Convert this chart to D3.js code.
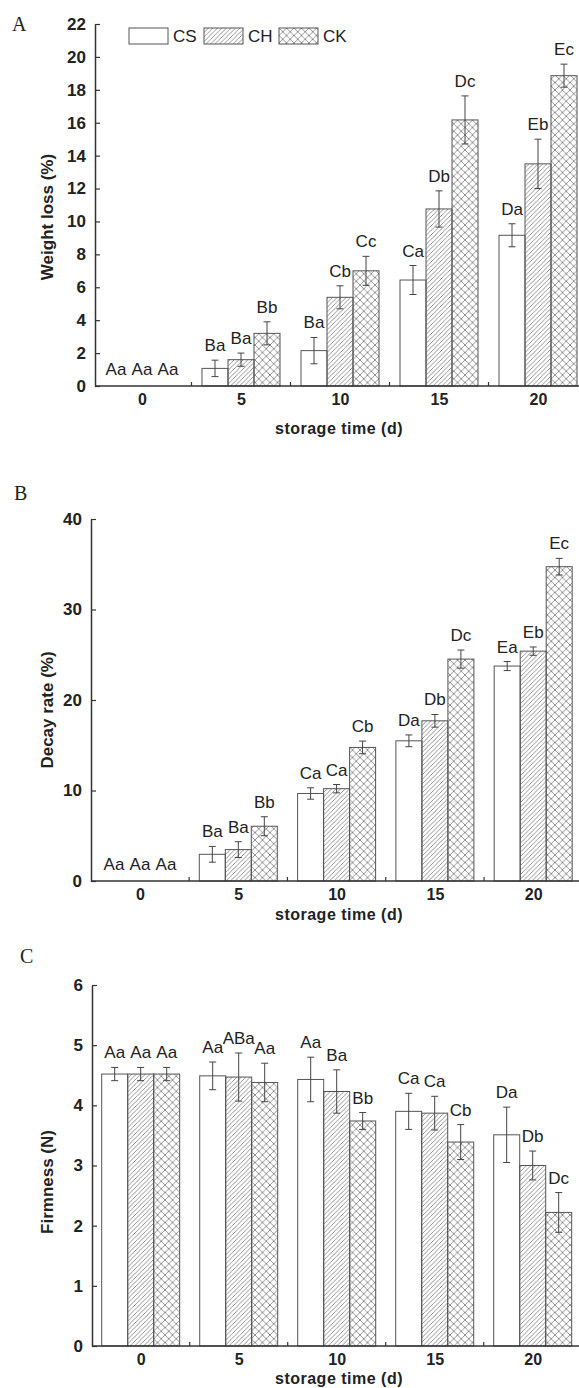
<!DOCTYPE html>
<html>
<head>
<meta charset="utf-8">
<script src="https://cdn.jsdelivr.net/npm/d3@7"></script>
<style>
  body { margin: 0; background: #fff; }
  svg { display: block; }
</style>
</head>
<body>
<div id="chart"></div>
<script>
// categories
const days = ["0", "5", "10", "15", "20"];
const groups = ["CS", "CH", "CK"];

// A - weight loss (%)
const lossCS = [0, 1.07, 2.15, 6.44, 9.16];
const lossCSErr = [0, 0.5, 0.8, 0.88, 0.7];
const lossCSLbl = ["Aa", "Ba", "Ba", "Ca", "Da"];
const lossCH = [0, 1.6, 5.39, 10.76, 13.5];
const lossCHErr = [0, 0.4, 0.7, 1.1, 1.5];
const lossCHLbl = ["Aa", "Ba", "Cb", "Db", "Eb"];
const lossCK = [0, 3.2, 7.0, 16.17, 18.86];
const lossCKErr = [0, 0.7, 0.88, 1.46, 0.7];
const lossCKLbl = ["Aa", "Bb", "Cc", "Dc", "Ec"];
const lossTicks = [0, 2, 4, 6, 8, 10, 12, 14, 16, 18, 20, 22];

// B - decay rate (%)
const decayCS = [0, 2.95, 9.67, 15.49, 23.75];
const decayCSErr = [0, 0.87, 0.63, 0.65, 0.5];
const decayCSLbl = ["Aa", "Ba", "Ca", "Da", "Ea"];
const decayCH = [0, 3.47, 10.2, 17.7, 25.4];
const decayCHErr = [0, 0.87, 0.46, 0.7, 0.46];
const decayCHLbl = ["Aa", "Ba", "Ca", "Db", "Eb"];
const decayCK = [0, 6.05, 14.76, 24.52, 34.73];
const decayCKErr = [0, 1.05, 0.7, 1.0, 0.92];
const decayCKLbl = ["Aa", "Bb", "Cb", "Dc", "Ec"];
const decayTicks = [0, 10, 20, 30, 40];

// C - firmness (N)
const firmCS = [4.52, 4.49, 4.43, 3.9, 3.51];
const firmCSErr = [0.11, 0.23, 0.37, 0.3, 0.46];
const firmCSLbl = ["Aa", "Aa", "Aa", "Ca", "Da"];
const firmCH = [4.52, 4.47, 4.23, 3.87, 3.0];
const firmCHErr = [0.11, 0.4, 0.36, 0.28, 0.24];
const firmCHLbl = ["Aa", "ABa", "Ba", "Ca", "Db"];
const firmCK = [4.52, 4.38, 3.74, 3.39, 2.22];
const firmCKErr = [0.11, 0.32, 0.14, 0.29, 0.33];
const firmCKLbl = ["Aa", "Aa", "Bb", "Cb", "Dc"];
const firmTicks = [0, 1, 2, 3, 4, 5, 6];

const W = 579, H = 1388;
const svg = d3.select("#chart").append("svg")
    .attr("width", W).attr("height", H)
    .style("font-family", "'Liberation Sans', Arial, sans-serif");

// hatch patterns
let defs = svg.append("defs");
let s = 4.5;
defs.append("pattern")
    .attr("id", "hatch").attr("patternUnits", "userSpaceOnUse")
    .attr("width", s).attr("height", s)
    .append("path")
    .attr("d", `M-1,1 l2,-2 M0,${s} l${s},-${s} M${s - 1},${s + 1} l2,-2`)
    .attr("stroke", "#7a7a7a").attr("stroke-width", 0.8);
let c = 7.5;
let cross = defs.append("pattern")
    .attr("id", "cross").attr("patternUnits", "userSpaceOnUse")
    .attr("width", c).attr("height", c);
cross.append("path")
    .attr("d", `M0,0 L${c},${c} M${c},0 L0,${c}`)
    .attr("stroke", "#7a7a7a").attr("stroke-width", 0.8);

const fills = { CS: "#fff", CH: "url(#hatch)", CK: "url(#cross)" };

const panels = [
    {
        letter: "A", lx: 12, ly: 31, title: "Weight loss (%)", tx: 47, ty: 217,
        max: 22, ticks: lossTicks, axisX: 95, y0: 386, yTop: 24, xc0: 142, step: 99, xt: 428,
        vals: [lossCS, lossCH, lossCK], errs: [lossCSErr, lossCHErr, lossCKErr],
        lbls: [lossCSLbl, lossCHLbl, lossCKLbl], legend: true
    },
    {
        letter: "B", lx: 14, ly: 500, title: "Decay rate (%)", tx: 47, ty: 710,
        max: 40, ticks: decayTicks, axisX: 91, y0: 881, yTop: 519, xc0: 140, step: 98.3, xt: 914,
        vals: [decayCS, decayCH, decayCK], errs: [decayCSErr, decayCHErr, decayCKErr],
        lbls: [decayCSLbl, decayCHLbl, decayCKLbl]
    },
    {
        letter: "C", lx: 20, ly: 963, title: "Firmness (N)", tx: 47, ty: 1182,
        max: 6, ticks: firmTicks, axisX: 92, y0: 1346, yTop: 985, xc0: 140.7, step: 98, xt: 1378,
        vals: [firmCS, firmCH, firmCK], errs: [firmCSErr, firmCHErr, firmCKErr],
        lbls: [firmCSLbl, firmCHLbl, firmCKLbl]
    }
];

panels.forEach(function(p) {
    let g = svg.append("g");

    let y = d3.scaleLinear().domain([0, p.max]).range([p.y0, p.yTop]);
    let x = d3.scalePoint().domain(days).range([p.xc0, p.xc0 + 4 * p.step]);
    let sub = d3.scaleBand().domain(groups).range([-39, 39]);
    let bw = sub.bandwidth();

    // flatten to rows
    let rows = [];
    groups.forEach(function(grp, gi) {
        days.forEach(function(d, di) {
            rows.push({ day: d, grp: grp, v: p.vals[gi][di], e: p.errs[gi][di], lbl: p.lbls[gi][di] });
        });
    });

    // bars
    g.selectAll("rect.bar").data(rows.filter(r => r.v > 0)).join("rect")
        .attr("class", "bar")
        .attr("x", r => x(r.day) + sub(r.grp))
        .attr("y", r => y(r.v))
        .attr("width", bw)
        .attr("height", r => p.y0 - y(r.v))
        .attr("fill", r => fills[r.grp])
        .attr("stroke", "#555").attr("stroke-width", 1);

    // error bars
    let eb = g.selectAll("g.err").data(rows.filter(r => r.e > 0)).join("g")
        .attr("class", "err")
        .attr("stroke", "#444").attr("stroke-width", 1);
    let cx = r => x(r.day) + sub(r.grp) + bw / 2;
    eb.append("line")
        .attr("x1", cx).attr("x2", cx)
        .attr("y1", r => y(r.v + r.e)).attr("y2", r => y(r.v - r.e));
    eb.append("line")
        .attr("x1", r => cx(r) - 3.5).attr("x2", r => cx(r) + 3.5)
        .attr("y1", r => y(r.v + r.e)).attr("y2", r => y(r.v + r.e));
    eb.append("line")
        .attr("x1", r => cx(r) - 3.5).attr("x2", r => cx(r) + 3.5)
        .attr("y1", r => y(r.v - r.e)).attr("y2", r => y(r.v - r.e));

    // significance letters
    g.selectAll("text.sig").data(rows).join("text")
        .attr("class", "sig")
        .attr("x", cx)
        .attr("y", r => y(r.v + r.e) - (r.v > 0 ? 9 : 11))
        .attr("text-anchor", "middle")
        .attr("font-size", 17)
        .attr("fill", "#222")
        .text(r => r.lbl);

    // y axis
    let ya = g.append("g")
        .attr("transform", "translate(" + p.axisX + ",0)")
        .call(d3.axisLeft(y).tickValues(p.ticks).tickFormat(d3.format("d"))
            .tickSize(-5).tickSizeOuter(0).tickPadding(9));
    ya.select(".domain").attr("stroke", "#333").attr("stroke-width", 1.5);
    ya.selectAll(".tick line").attr("stroke", "#333").attr("stroke-width", 1.2);
    ya.selectAll(".tick text")
        .attr("font-size", 17).attr("font-weight", "bold")
        .attr("font-family", "'Liberation Sans', Arial, sans-serif").attr("fill", "#222");

    // x axis
    let xa = g.append("g")
        .attr("transform", "translate(0," + p.y0 + ")")
        .call(d3.axisBottom(x).tickSize(0).tickPadding(8));
    xa.select(".domain").remove();
    xa.selectAll(".tick text")
        .attr("font-size", 16).attr("font-weight", "bold")
        .attr("font-family", "'Liberation Sans', Arial, sans-serif").attr("fill", "#222");
    g.append("line")
        .attr("x1", p.axisX).attr("x2", W)
        .attr("y1", p.y0).attr("y2", p.y0)
        .attr("stroke", "#333").attr("stroke-width", 1.5);
    let mids = d3.pairs(days).map(pr => (x(pr[0]) + x(pr[1])) / 2);
    g.selectAll("line.minor").data(mids).join("line")
        .attr("class", "minor")
        .attr("x1", m => m).attr("x2", m => m)
        .attr("y1", p.y0).attr("y2", p.y0 - 4)
        .attr("stroke", "#333").attr("stroke-width", 1.2);

    // axis titles
    g.append("text")
        .attr("x", 339).attr("y", p.xt + 6)
        .attr("text-anchor", "middle")
        .attr("font-size", 16).attr("font-weight", "bold").attr("fill", "#222")
        .attr("letter-spacing", 0.5)
        .text("storage time (d)");
    g.append("text")
        .attr("transform", "translate(" + (p.tx + 6) + "," + p.ty + ") rotate(-90)")
        .attr("text-anchor", "middle")
        .attr("font-size", 17).attr("font-weight", "bold").attr("fill", "#222")
        .text(p.title);

    // panel letter
    g.append("text")
        .attr("x", p.lx).attr("y", p.ly)
        .attr("font-family", "'Liberation Serif', 'Times New Roman', serif")
        .attr("font-size", 20).attr("fill", "#222")
        .text(p.letter);

    // legend
    if (p.legend) {
        let lg = g.selectAll("g.leg").data(groups).join("g")
            .attr("class", "leg")
            .attr("transform", (d, i) => "translate(" + (129 + i * 75) + ",28)");
        lg.append("rect")
            .attr("width", 39).attr("height", 16)
            .attr("fill", d => fills[d])
            .attr("stroke", "#555").attr("stroke-width", 1);
        lg.append("text")
            .attr("x", 44).attr("y", 14)
            .attr("font-size", 17).attr("fill", "#222")
            .text(d => d);
    }
});
</script>
</body>
</html>
